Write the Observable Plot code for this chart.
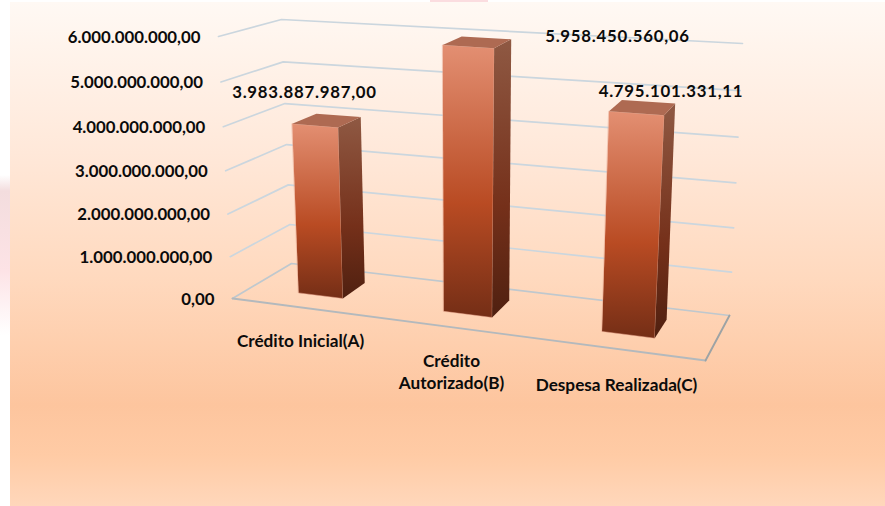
<!DOCTYPE html>
<html><head><meta charset="utf-8">
<script src="https://cdn.jsdelivr.net/npm/d3@7"></script>
<script src="https://cdn.jsdelivr.net/npm/@observablehq/plot@0.6"></script>
<style>
html,body{margin:0;padding:0;background:#fff;overflow:hidden}
svg{display:block}
.vals text{letter-spacing:.75px}
</style></head><body><div id="c"></div>
<script>
// ---- data ----
const categories = ["Crédito Inicial(A)", "Crédito\nAutorizado(B)", "Despesa Realizada(C)"];
const values = [3983887987.00, 5958450560.06, 4795101331.11];
const valueLabels = ["3.983.887.987,00", "5.958.450.560,06", "4.795.101.331,11"];
const ticks = [0, 1e9, 2e9, 3e9, 4e9, 5e9, 6e9];
const tickLabels = ["0,00", "1.000.000.000,00", "2.000.000.000,00", "3.000.000.000,00", "4.000.000.000,00", "5.000.000.000,00", "6.000.000.000,00"];

// ---- 3D box projection (Plot has no 3D): [x,y] of the chart box corners ----
const floorC = {fl:[232,298], fr:[705,360], bl:[291,263], br:[729,315]};
const roofC  = {fl:[218,36],  fr:[722,68],  bl:[281,19],  br:[742,43]};
const maxV = 6e9;
const mix = (a,b,t) => [a[0]+(b[0]-a[0])*t, a[1]+(b[1]-a[1])*t];
const plane = (c,u,d) => mix(mix(c.fl,c.bl,d), mix(c.fr,c.br,d), u);
const warp = s => s*(1+.13*(s-1));
const heightT = v => { const r=v/maxV; return r-.05*r*(1-r); };
const P = (s,d,v) => { const u=warp(s); return mix(plane(floorC,u,d), plane(roofC,u,d), heightT(v)); };

const dFront=.33, dBack=.75, halfW=.0525;
const poly = (pts,fill,extra={}) => Plot.line(pts,{x:p=>p[0],y:p=>p[1],fill,stroke:extra.stroke||"none",strokeWidth:extra.sw||0,curve:"linear-closed"});

const grid = [];
for (const v of ticks) {
  const line = [P(0,0,v), P(0,1,v), P(1,1,v)];
  grid.push(Plot.line(line,{x:p=>p[0],y:p=>p[1],stroke:v===0?"#BFC8CE":"#CBD6DE",strokeWidth:1.7}));
}
const floorEdges = [
  Plot.line([P(0,0,0),P(1,0,0)],{x:p=>p[0],y:p=>p[1],stroke:"#B3B9BD",strokeWidth:1.9}),
  Plot.line([P(1,0,0),P(1,1,0)],{x:p=>p[0],y:p=>p[1],stroke:"#9DA3A5",strokeWidth:1.9})
];

const bars = [];
values.forEach((v,i)=>{
  const s=(i+.5)/3, a=s-halfW, b=s+halfW;
  bars.push(poly([P(a,dFront,0),P(b,dFront,0),P(b,dFront,v),P(a,dFront,v)],"url(#gFront)",{stroke:"#E9A68E",sw:.5}));
  bars.push(poly([P(b,dFront,0),P(b,dBack,0),P(b,dBack,v),P(b,dFront,v)],"url(#gSide)"));
  bars.push(poly([P(a,dFront,v),P(b,dFront,v),P(b,dBack,v),P(a,dBack,v)],"#AE6A52"));
});

// label layout
const tickLabelDx=-18, tickLabelDy=1;
const valueLabelAt=[[304,92],[617,36],[670.5,91]];
const categoryAt=[[300,340],[451,370.5],[616,384]];
const font='Lato, Carlito, sans-serif';

const defs = () => {
  const s=document.createElementNS("http://www.w3.org/2000/svg","g");
  s.innerHTML=`<defs>
  <linearGradient id="gBg" x1="0" y1="0" x2="0" y2="1">
    <stop offset="0" stop-color="#FFF9F4"/><stop offset=".3" stop-color="#FFE8D9"/>
    <stop offset=".55" stop-color="#FFD9BE"/><stop offset=".8" stop-color="#FDC59E"/>
    <stop offset=".9" stop-color="#FFCBA5"/><stop offset="1" stop-color="#FFD7BB"/>
  </linearGradient>
  <linearGradient id="gFront" x1="0" y1="0" x2="0" y2="1">
    <stop offset="0" stop-color="#E38F72"/><stop offset=".58" stop-color="#B94B23"/><stop offset="1" stop-color="#742E16"/>
  </linearGradient>
  <linearGradient id="gSide" x1="0" y1="0" x2="0" y2="1">
    <stop offset="0" stop-color="#8F5943"/><stop offset=".6" stop-color="#75301A"/><stop offset="1" stop-color="#4F2010"/>
  </linearGradient>
  <linearGradient id="gPink" x1="0" y1="0" x2="0" y2="1">
    <stop offset="0" stop-color="#FFFFFF"/><stop offset=".1" stop-color="#F3DDDE"/><stop offset=".6" stop-color="#FDE3E6"/><stop offset="1" stop-color="#FFFFFF"/>
  </linearGradient></defs>`;
  return s;
};

const chart = Plot.plot({
  width:885, height:506, margin:0,
  x:{domain:[0,885],range:[0,885],axis:null},
  y:{domain:[0,506],range:[0,506],axis:null},
  style:{background:"#fff",fontFamily:font},
  marks:[
    defs,
    Plot.rect([{}],{x1:()=>0,x2:()=>10,y1:()=>175,y2:()=>335,fill:"url(#gPink)"}),
    Plot.rect([{}],{x1:()=>430,x2:()=>488,y1:()=>0,y2:()=>2,fill:"#FBDDE0"}),
    Plot.rect([{}],{x1:()=>10,x2:()=>885,y1:()=>2,y2:()=>506,fill:"url(#gBg)"}),
    ...grid,
    ...floorEdges,
    ...bars,
    Plot.text(ticks,{x:v=>P(0,0,v)[0]+tickLabelDx,y:v=>P(0,0,v)[1]+tickLabelDy,text:(v,i)=>tickLabels[i],textAnchor:"end",fontSize:16.8,fontWeight:700,fill:"#0b0b0b"}),
    Plot.text(valueLabels,{x:(d,i)=>valueLabelAt[i][0],y:(d,i)=>valueLabelAt[i][1],text:d=>d,fontSize:16.8,fontWeight:700,fill:"#0b0b0b",className:"vals"}),
    Plot.text(categories,{x:(d,i)=>categoryAt[i][0],y:(d,i)=>categoryAt[i][1],text:d=>d,fontSize:17.2,fontWeight:700,fill:"#0b0b0b",lineHeight:1.25})
  ]
});
document.getElementById("c").appendChild(chart);
</script></body></html>
